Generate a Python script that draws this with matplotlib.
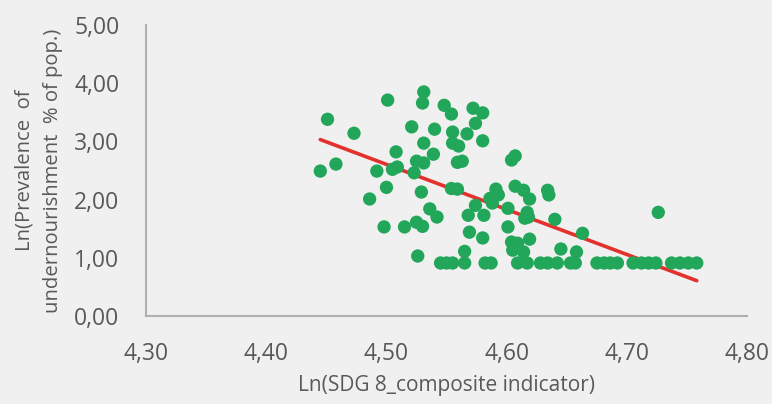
import matplotlib.pyplot as plt
import numpy as np

# Ln(SDG 8 composite indicator) vs Ln(prevalence of undernourishment)
sdg8 = [4.445, 4.451, 4.458, 4.473, 4.486, 4.492, 4.498, 4.500, 4.501, 4.505,
        4.509, 4.508, 4.515, 4.521, 4.523, 4.525, 4.525, 4.526, 4.529, 4.530,
        4.530, 4.531, 4.531, 4.531, 4.536, 4.542, 4.539, 4.540,
        4.548, 4.554, 4.555, 4.555, 4.560, 4.559, 4.563, 4.554, 4.559, 4.567,
        4.572, 4.580, 4.574, 4.580, 4.574, 4.568, 4.581, 4.569, 4.580, 4.565,
        4.591, 4.593, 4.586, 4.588, 4.601, 4.601, 4.604, 4.607, 4.607, 4.614,
        4.619, 4.617, 4.618, 4.615, 4.604, 4.609, 4.605, 4.619, 4.614, 4.634,
        4.635, 4.640, 4.645, 4.658, 4.663, 4.726,
        4.545, 4.550, 4.555, 4.565, 4.582, 4.587, 4.609, 4.617, 4.628, 4.634,
        4.642, 4.653, 4.657, 4.675, 4.681, 4.686, 4.692, 4.705, 4.712, 4.718,
        4.724, 4.737, 4.744, 4.751, 4.758]
undernourish = [2.49, 3.38, 2.61, 3.14, 2.01, 2.49, 1.53, 2.21, 3.71, 2.52,
                2.56, 2.82, 1.53, 3.25, 2.46, 2.66, 1.61, 1.03, 2.13, 3.66,
                1.54, 3.85, 2.97, 2.63, 1.84, 1.70, 2.78, 3.21,
                3.62, 3.47, 3.16, 2.97, 2.92, 2.64, 2.66, 2.19, 2.18, 3.13,
                3.57, 3.49, 3.31, 3.01, 1.90, 1.73, 1.73, 1.44, 1.34, 1.11,
                2.18, 2.08, 2.02, 1.94, 1.85, 1.53, 2.68, 2.75, 2.23, 2.16,
                2.01, 1.78, 1.70, 1.68, 1.27, 1.25, 1.13, 1.32, 1.10, 2.16,
                2.08, 1.66, 1.15, 1.10, 1.42, 1.78,
                0.91, 0.91, 0.91, 0.91, 0.91, 0.91, 0.91, 0.91, 0.91, 0.91,
                0.91, 0.91, 0.91, 0.91, 0.91, 0.91, 0.91, 0.91, 0.91, 0.91,
                0.91, 0.91, 0.91, 0.91, 0.91]

# linear trendline (as drawn)
trend_slope = -7.75
trend_intercept = 37.48

x_ticks = [4.30, 4.40, 4.50, 4.60, 4.70, 4.80]
y_ticks = [0, 1, 2, 3, 4, 5]

plt.rcParams['font.family'] = ['Open Sans', 'DejaVu Sans']
bg = '#f0f0f0'
grey_text = '#595959'

fig = plt.figure(figsize=(7.72, 4.04), dpi=100, facecolor=bg)
ax = fig.add_axes([0.189, 0.218, 0.779, 0.720], facecolor=bg)

xs = np.array(sdg8)
xl = np.array([xs.min(), xs.max()])
ax.plot(xl, trend_intercept + trend_slope * xl, color='#e3312d', lw=2.6,
        solid_capstyle='round', zorder=2)
ax.scatter(sdg8, undernourish, s=92, color='#22a75a', edgecolors='none', zorder=3)

ax.set_xlim(4.30, 4.80)
ax.set_ylim(0, 5)
ax.set_xticks(x_ticks)
ax.set_yticks(y_ticks)
ax.set_xticklabels([f'{v:.2f}'.replace('.', ',') for v in x_ticks])
ax.set_yticklabels([f'{v:.2f}'.replace('.', ',') for v in y_ticks])
ax.tick_params(length=0, labelsize=16.5, labelcolor=grey_text, pad=19)

for s in ['top', 'right']:
    ax.spines[s].set_visible(False)
for s in ['left', 'bottom']:
    ax.spines[s].set_color('#b0b0b0')
    ax.spines[s].set_linewidth(1.5)

ax.set_xlabel('Ln(SDG 8_composite indicator)', fontsize=15, color=grey_text, labelpad=6)
ax.set_ylabel('Ln(Prevalence  of\nundernourishment  % of pop.)', fontsize=14.6,
              color=grey_text, labelpad=8, linespacing=1.55)

plt.savefig('out.png', dpi=100, facecolor=bg)
